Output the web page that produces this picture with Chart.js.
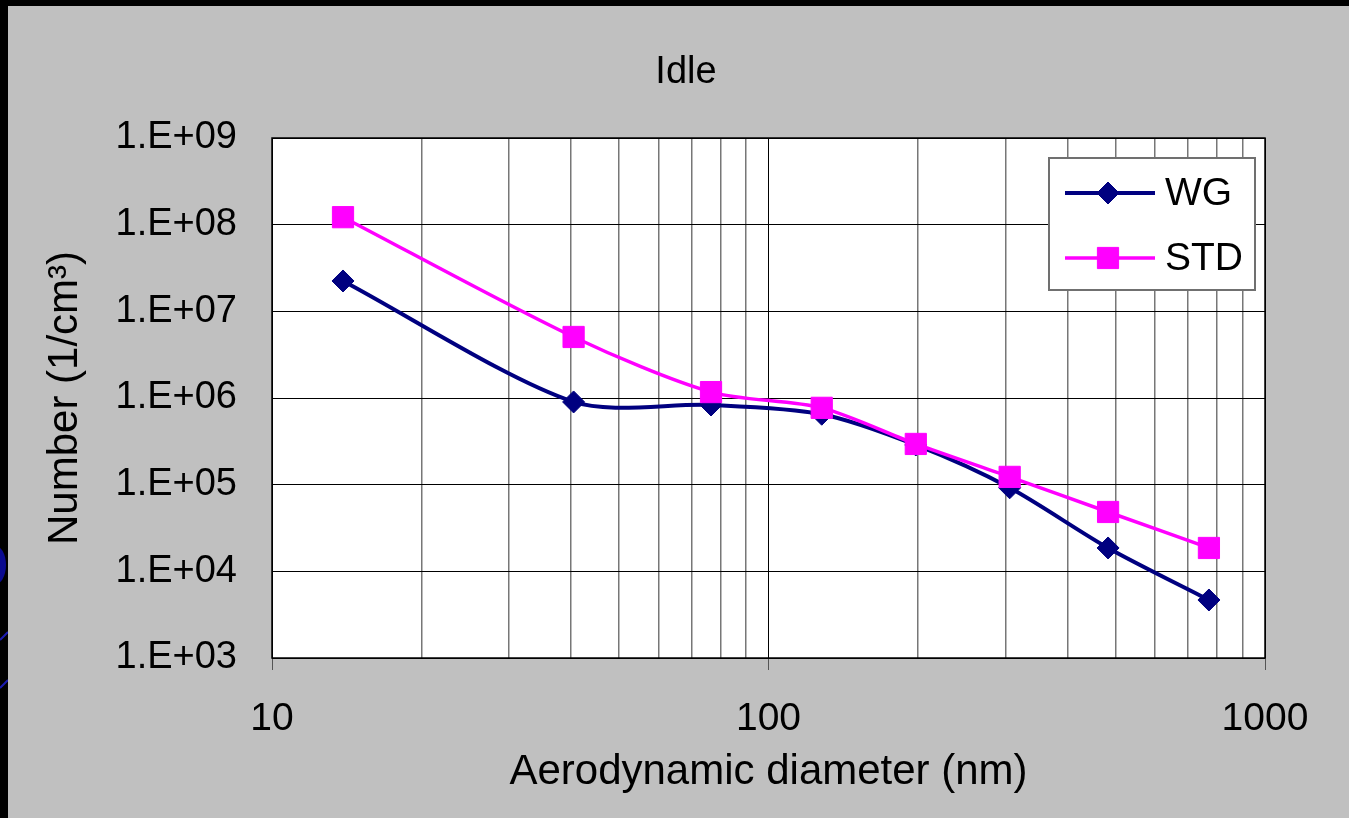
<!DOCTYPE html>
<html>
<head>
<meta charset="utf-8">
<style>
  html, body { margin: 0; padding: 0; background: #000; overflow: hidden; }
  #wrap { width: 1349px; height: 818px; }
</style>
</head>
<body>
<div id="wrap"><canvas id="chart" width="1349" height="818"></canvas></div>
<script src="https://cdn.jsdelivr.net/npm/chart.js"></script>
<script>
// data
const diameters = [13.9, 40.5, 76.6, 128, 198, 306, 483, 771];
const wgValues = [2.24e7, 9.0e5, 8.3e5, 6.5e5, 2.87e5, 9.2e4, 1.86e4, 4.67e3];
const stdValues = [1.22e8, 5.06e6, 1.17e6, 7.7e5, 2.95e5, 1.23e5, 4.84e4, 1.86e4];
const seriesNames = ['WG', 'STD'];
const chartTitle = 'Idle';

const xGridValues = [10, 20, 30, 40, 50, 60, 70, 80, 90, 100, 200, 300, 400, 500, 600, 700, 800, 900, 1000];
const xLabelValues = [10, 100, 1000];
const xTickLabels = ['10', '100', '1000'];
const yTickValues = [1e3, 1e4, 1e5, 1e6, 1e7, 1e8, 1e9];
const yTickLabels = ['1.E+03', '1.E+04', '1.E+05', '1.E+06', '1.E+07', '1.E+08', '1.E+09'];

const FONT = "'Liberation Sans', Arial, Helvetica, sans-serif";

function toPoints(xs, ys) {
    return xs.map((x, i) => ({ x: x, y: ys[i] }));
}

// slide background, white plot area, title
const backgroundPlugin = {
    id: 'slideBackground',
    beforeDraw(chart) {
        const ctx = chart.ctx;
        const w = chart.width, h = chart.height;
        ctx.save();
        ctx.fillStyle = '#000';
        ctx.fillRect(0, 0, w, h);
        // bits of the blue slide art on the left edge
        ctx.beginPath();
        ctx.rect(0, 6, 8, h);
        ctx.clip();
        ctx.fillStyle = '#0a0a90';
        ctx.beginPath();
        ctx.ellipse(-6, 565, 12, 20, 0, 0, Math.PI * 2);
        ctx.fill();
        ctx.strokeStyle = '#1a1ab0';
        ctx.lineWidth = 2;
        ctx.beginPath();
        ctx.moveTo(0, 640); ctx.lineTo(8, 632);
        ctx.moveTo(0, 688); ctx.lineTo(8, 680);
        ctx.stroke();
        ctx.restore();

        ctx.save();
        ctx.fillStyle = '#c0c0c0';
        ctx.fillRect(8, 6, w - 8, h - 6);
        const a = chart.chartArea;
        ctx.fillStyle = '#ffffff';
        ctx.fillRect(a.left, a.top, a.right - a.left, a.bottom - a.top);
        ctx.fillStyle = '#000';
        ctx.font = '38px ' + FONT;
        ctx.textAlign = 'center';
        ctx.textBaseline = 'middle';
        ctx.fillText(chartTitle, 686, 73);
        ctx.restore();
    },
    beforeDatasetsDraw(chart) {
        const ctx = chart.ctx, a = chart.chartArea;
        ctx.save();
        ctx.strokeStyle = '#000';
        ctx.lineWidth = 1.5;
        ctx.strokeRect(a.left, a.top, a.right - a.left, a.bottom - a.top);
        ctx.restore();
    }
};

// legend box sitting inside the plot, top right
const boxLegendPlugin = {
    id: 'boxLegend',
    afterDraw(chart) {
        const ctx = chart.ctx;
        const bx = 1049, by = 158, bw = 206, bh = 132;
        ctx.save();
        ctx.fillStyle = '#fff';
        ctx.fillRect(bx, by, bw, bh);
        ctx.strokeStyle = '#707070';
        ctx.lineWidth = 2;
        ctx.strokeRect(bx, by, bw, bh);
        chart.data.datasets.forEach((ds, i) => {
            const y = by + 35 + i * 65;
            ctx.strokeStyle = ds.borderColor;
            ctx.lineWidth = ds.borderWidth;
            ctx.beginPath();
            ctx.moveTo(bx + 16, y);
            ctx.lineTo(bx + 106, y);
            ctx.stroke();
            ctx.fillStyle = ds.pointBackgroundColor;
            ctx.strokeStyle = ds.pointBorderColor;
            ctx.lineWidth = ds.pointBorderWidth;
            Chart.helpers.drawPoint(ctx, {
                pointStyle: ds.pointStyle,
                radius: ds.pointRadius,
                rotation: 0,
                borderWidth: ds.pointBorderWidth
            }, bx + 59, y);
            ctx.fillStyle = '#000';
            ctx.font = '39px ' + FONT;
            ctx.textAlign = 'left';
            ctx.textBaseline = 'middle';
            ctx.fillText(ds.label, bx + 116, y + 1);
        });
        ctx.restore();
    }
};

new Chart(document.getElementById('chart'), {
    type: 'line',
    data: {
        datasets: [
            {
                label: seriesNames[0],
                data: toPoints(diameters, wgValues),
                borderColor: '#000080',
                backgroundColor: '#000080',
                borderWidth: 4,
                pointStyle: 'rectRot',
                pointRadius: 11,
                pointBackgroundColor: '#000080',
                pointBorderColor: '#000080',
                pointBorderWidth: 1,
                tension: 0.28,
                order: 1
            },
            {
                label: seriesNames[1],
                data: toPoints(diameters, stdValues),
                borderColor: '#ff00ff',
                backgroundColor: '#ff00ff',
                borderWidth: 3.5,
                pointStyle: 'rect',
                pointRadius: 15,
                pointBackgroundColor: '#ff00ff',
                pointBorderColor: '#ff00ff',
                pointBorderWidth: 1,
                tension: 0.28,
                order: 0
            }
        ]
    },
    options: {
        responsive: false,
        animation: false,
        layout: { padding: { left: 8, top: 138, right: 84, bottom: 0 } },
        plugins: {
            legend: { display: false },
            tooltip: { enabled: false },
            title: { display: false }
        },
        scales: {
            x: {
                type: 'logarithmic',
                min: 10,
                max: 1000,
                afterBuildTicks(scale) {
                    scale.ticks = xGridValues.map(v => ({ value: v }));
                },
                afterFit(scale) { scale.height = 160; },
                ticks: {
                    autoSkip: false,
                    maxRotation: 0,
                    color: '#000',
                    padding: 26,
                    font: { family: FONT, size: 39 },
                    callback(value) {
                        const i = xLabelValues.indexOf(value);
                        return i >= 0 ? xTickLabels[i] : '';
                    }
                },
                grid: {
                    color: ctx => xLabelValues.includes(ctx.tick.value) ? '#000' : '#777',
                    lineWidth: ctx => xLabelValues.includes(ctx.tick.value) ? 1 : 1.5,
                    tickColor: ctx => xLabelValues.includes(ctx.tick.value) ? '#555' : 'rgba(0,0,0,0)',
                    tickLength: 12,
                    drawTicks: true
                },
                border: { display: false },
                title: {
                    display: true,
                    text: 'Aerodynamic diameter (nm)',
                    color: '#000',
                    font: { family: FONT, size: 42 },
                    padding: { top: 0, bottom: 20 }
                }
            },
            y: {
                type: 'logarithmic',
                min: 1e3,
                max: 1e9,
                afterBuildTicks(scale) {
                    scale.ticks = yTickValues.map(v => ({ value: v }));
                },
                afterFit(scale) { scale.width = 272 - 8; },
                ticks: {
                    autoSkip: false,
                    color: '#000',
                    padding: 35,
                    font: { family: FONT, size: 38 },
                    callback(value) {
                        const i = yTickValues.indexOf(value);
                        return i >= 0 ? yTickLabels[i] : '';
                    }
                },
                grid: {
                    color: '#000',
                    lineWidth: 1,
                    drawTicks: false
                },
                border: { display: false },
                title: {
                    display: true,
                    text: 'Number (1/cm³)',
                    color: '#000',
                    font: { family: FONT, size: 42 },
                    padding: { top: 32, bottom: 0 }
                }
            }
        }
    },
    plugins: [backgroundPlugin, boxLegendPlugin]
});
</script>
</body>
</html>
